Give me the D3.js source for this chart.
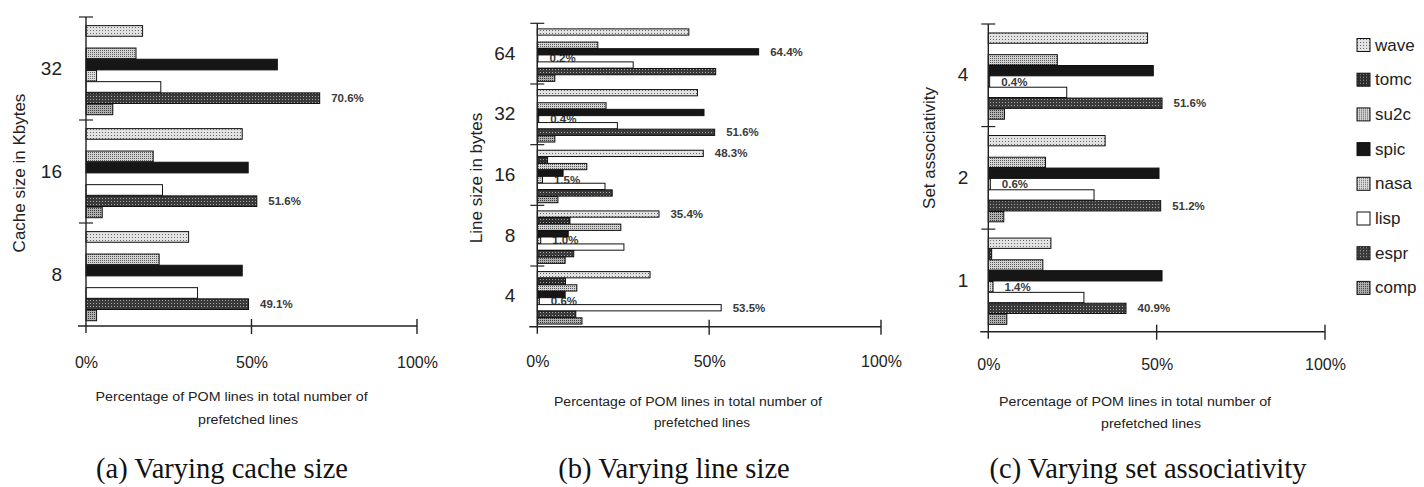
<!DOCTYPE html>
<html>
<head>
<meta charset="utf-8">
<script src="https://cdn.jsdelivr.net/npm/d3@7"></script>
<style>
  html, body { margin: 0; padding: 0; background: #fff; }
  svg { display: block; }
</style>
</head>
<body>
<svg id="chart" width="1424" height="487"></svg>
<script>
// Benchmarks, top-to-bottom within each group
const seriesNames = ["wave", "tomc", "su2c", "spic", "nasa", "lisp", "espr", "comp"];

// (a) Varying cache size (Kbytes)
const cacheGroups = ["32", "16", "8"];
const cache32 = [17.1, 0, 15.1, 57.8, 3.2, 22.6, 70.6, 8.1];
const cache16 = [47.2, 0, 20.3, 49.0, 0, 23.1, 51.6, 4.9];
const cache8  = [31.0, 0, 22.1, 47.2, 0, 33.7, 49.1, 3.2];
const cacheLabels = [["32", "espr"], ["16", "espr"], ["8", "espr"]];

// (b) Varying line size (bytes)
const lineGroups = ["64", "32", "16", "8", "4"];
const line64 = [44.1, 0, 17.6, 64.4, 0.2, 27.9, 51.9, 5.1];
const line32 = [46.6, 0, 20.0, 48.5, 0.4, 23.3, 51.6, 5.1];
const line16 = [48.3, 3.0, 14.4, 7.5, 1.5, 19.7, 21.8, 6.0];
const line8  = [35.4, 9.5, 24.3, 9.0, 1.0, 25.2, 10.6, 8.1];
const line4  = [32.8, 8.2, 11.5, 8.1, 0.6, 53.5, 11.2, 13.0];
const lineLabels = [["64", "spic"], ["64", "nasa"], ["32", "espr"], ["32", "nasa"],
                    ["16", "wave"], ["16", "nasa"], ["8", "wave"], ["8", "nasa"],
                    ["4", "lisp"], ["4", "nasa"]];

// (c) Varying set associativity
const assocGroups = ["4", "2", "1"];
const assoc4 = [47.3, 0, 20.5, 49.0, 0.4, 23.3, 51.6, 4.8];
const assoc2 = [34.7, 0, 17.0, 50.7, 0.6, 31.4, 51.2, 4.6];
const assoc1 = [18.6, 1.0, 16.2, 51.6, 1.4, 28.4, 40.9, 5.5];
const assocLabels = [["4", "nasa"], ["4", "espr"], ["2", "nasa"], ["2", "espr"],
                     ["1", "nasa"], ["1", "espr"]];

const xTicks = [0, 50, 100];

const svg = d3.select("#chart");
const defs = svg.append("defs");

// Screen-tone fills for each benchmark
const tones = {
  wave: { bg: "#e2e2e2", fg: "#6a6a6a", size: 3 },
  tomc: { bg: "#2c2c2c", fg: "#9a9a9a", size: 3 },
  su2c: { bg: "#d4d4d4", fg: "#5a5a5a", size: 2 },
  spic: { bg: "#161616", fg: "#161616", size: 3 },
  nasa: { bg: "#dadada", fg: "#707070", size: 2 },
  lisp: { bg: "#ffffff", fg: "#ffffff", size: 3 },
  espr: { bg: "#3a3a3a", fg: "#a8a8a8", size: 3 },
  comp: { bg: "#b0b0b0", fg: "#3c3c3c", size: 2 }
};
seriesNames.forEach(name => {
  const t = tones[name];
  const p = defs.append("pattern")
    .attr("id", "tone-" + name)
    .attr("patternUnits", "userSpaceOnUse")
    .attr("width", t.size).attr("height", t.size);
  p.append("rect").attr("width", t.size).attr("height", t.size).attr("fill", t.bg);
  p.append("rect").attr("x", 0).attr("y", 0).attr("width", 1).attr("height", 1).attr("fill", t.fg);
});

const sansFont = "'Liberation Sans', Arial, Helvetica, sans-serif";
const serifFont = "'Liberation Serif', 'Times New Roman', serif";
const fmtPct = v => d3.format(".1f")(v) + "%";

function drawPanel(cfg) {
  const g = svg.append("g");
  const x = d3.scaleLinear().domain([0, 100]).range([cfg.x0, cfg.x100]);
  const yGroup = d3.scaleBand().domain(cfg.groups).range([cfg.yTop, cfg.yBottom]).padding(0);
  const ySeries = d3.scaleBand().domain(seriesNames).range([0, yGroup.bandwidth()])
    .paddingInner(cfg.padInner).paddingOuter(cfg.padOuter).align(cfg.align);

  const rows = [];
  cfg.groups.forEach((grp, gi) => {
    cfg.values[gi].forEach((v, si) => rows.push({ grp, name: seriesNames[si], v }));
  });
  const valueOf = (grp, name) => rows.find(r => r.grp === grp && r.name === name).v;

  // value labels sit behind the bars
  g.append("g").selectAll("text")
    .data(cfg.labels)
    .join("text")
    .attr("x", d => x(valueOf(d[0], d[1])) + 11.5)
    .attr("y", d => yGroup(d[0]) + ySeries(d[1]) + ySeries.bandwidth() / 2)
    .attr("dominant-baseline", "central")
    .attr("font-family", sansFont)
    .attr("font-size", 11.5)
    .attr("font-weight", "bold")
    .attr("fill", "#3a3a3a")
    .text(d => fmtPct(valueOf(d[0], d[1])));

  // bars
  g.append("g").selectAll("rect")
    .data(rows.filter(r => r.v > 0))
    .join("rect")
    .attr("x", x(0))
    .attr("y", d => yGroup(d.grp) + ySeries(d.name))
    .attr("width", d => x(d.v) - x(0))
    .attr("height", ySeries.bandwidth())
    .attr("fill", d => "url(#tone-" + d.name + ")")
    .attr("stroke", "#111")
    .attr("stroke-width", 1);

  // y axis: group boundary ticks and category labels
  const yAxis = d3.axisLeft(yGroup).tickSize(0).tickPadding(cfg.labelPad);
  const ya = g.append("g").attr("transform", `translate(${x(0)},0)`).call(yAxis);
  ya.select(".domain").remove();
  ya.selectAll("text")
    .attr("font-family", sansFont)
    .attr("font-size", 19)
    .attr("fill", "#222");
  const bounds = cfg.groups.map(grp => yGroup(grp));
  g.append("g").selectAll("line")
    .data(bounds)
    .join("line")
    .attr("x1", x(0) - 7).attr("x2", x(0) + 7)
    .attr("y1", d => d).attr("y2", d => d)
    .attr("stroke", "#222").attr("stroke-width", 1.2);
  g.append("line")
    .attr("x1", x(0)).attr("x2", x(0))
    .attr("y1", cfg.yTop).attr("y2", cfg.yBottom + 7)
    .attr("stroke", "#222").attr("stroke-width", 1.4);

  // x axis
  g.append("line")
    .attr("x1", x(0) - 8).attr("x2", x(100))
    .attr("y1", cfg.yBottom).attr("y2", cfg.yBottom)
    .attr("stroke", "#222").attr("stroke-width", 1.4);
  const xa = d3.axisBottom(x).tickValues(xTicks).tickFormat(d => d + "%").tickSize(0);
  const xg = g.append("g").attr("transform", `translate(0,${cfg.yBottom})`).call(xa);
  xg.select(".domain").remove();
  xg.selectAll("text")
    .attr("y", cfg.tickLabelDy)
    .attr("dy", "0.35em")
    .attr("font-family", sansFont)
    .attr("font-size", 16)
    .attr("fill", "#222");
  g.append("g").selectAll("line")
    .data(xTicks.filter(t => t > 0))
    .join("line")
    .attr("x1", d => x(d)).attr("x2", d => x(d))
    .attr("y1", cfg.yBottom - 7).attr("y2", cfg.yBottom + 8)
    .attr("stroke", "#222").attr("stroke-width", 1.4);

  // y axis title
  g.append("text")
    .attr("transform", `translate(${cfg.yTitleX},${cfg.yTitleY}) rotate(-90)`)
    .attr("text-anchor", "middle")
    .attr("dominant-baseline", "central")
    .attr("font-family", sansFont)
    .attr("font-size", 17)
    .attr("fill", "#222")
    .text(cfg.yTitle);

  // x axis title (two lines)
  const xt = g.append("g")
    .attr("font-family", sansFont)
    .attr("font-size", 12)
    .attr("fill", "#222");
  xt.append("text")
    .attr("x", cfg.xTitle1[0]).attr("y", cfg.xTitle1[1])
    .attr("text-anchor", "middle")
    .attr("textLength", cfg.xTitle1[2]).attr("lengthAdjust", "spacingAndGlyphs")
    .text("Percentage of POM lines in total number of");
  xt.append("text")
    .attr("x", cfg.xTitle2[0]).attr("y", cfg.xTitle2[1])
    .attr("text-anchor", "middle")
    .attr("textLength", cfg.xTitle2[2]).attr("lengthAdjust", "spacingAndGlyphs")
    .text("prefetched lines");

  // caption
  g.append("text")
    .attr("x", cfg.captionX).attr("y", 478)
    .attr("text-anchor", "middle")
    .attr("font-family", serifFont)
    .attr("font-size", 28.5)
    .attr("fill", "#111")
    .text(cfg.caption);
}

drawPanel({
  groups: cacheGroups, values: [cache32, cache16, cache8], labels: cacheLabels,
  x0: 86, x100: 417, yTop: 17, yBottom: 326,
  padInner: 0.05, padOuter: 0.62, align: 0.62, labelPad: 24,
  tickLabelDy: 36,
  yTitle: "Cache size in Kbytes", yTitleX: 19, yTitleY: 173,
  xTitle1: [231.6, 401, 272], xTitle2: [248, 424, 100],
  caption: "(a) Varying cache size", captionX: 222
});

drawPanel({
  groups: lineGroups, values: [line64, line32, line16, line8, line4], labels: lineLabels,
  x0: 537.3, x100: 881, yTop: 23.3, yBottom: 326.7,
  padInner: 0.05, padOuter: 0.62, align: 0.68, labelPad: 22,
  tickLabelDy: 35,
  yTitle: "Line size in bytes", yTitleX: 476, yTitleY: 178,
  xTitle1: [688, 406, 268], xTitle2: [702, 427, 96],
  caption: "(b) Varying line size", captionX: 674
});

drawPanel({
  groups: assocGroups, values: [assoc4, assoc2, assoc1], labels: assocLabels,
  x0: 988.3, x100: 1325, yTop: 24, yBottom: 331.7,
  padInner: 0.05, padOuter: 0.75, align: 0.55, labelPad: 20,
  tickLabelDy: 33,
  yTitle: "Set associativity", yTitleX: 929, yTitleY: 148,
  xTitle1: [1135, 406, 272], xTitle2: [1151, 428, 100],
  caption: "(c) Varying set associativity", captionX: 1148
});

// legend
const legend = svg.append("g").attr("transform", "translate(1357,45)");
const legendStep = 34.7;
const li = legend.selectAll("g")
  .data(seriesNames)
  .join("g")
  .attr("transform", (d, i) => `translate(0,${i * legendStep})`);
li.append("rect")
  .attr("x", 0).attr("y", -6.5).attr("width", 13).attr("height", 13)
  .attr("fill", d => "url(#tone-" + d + ")")
  .attr("stroke", "#111").attr("stroke-width", 1);
li.append("text")
  .attr("x", 18).attr("y", 0)
  .attr("dominant-baseline", "central")
  .attr("font-family", sansFont)
  .attr("font-size", 17)
  .attr("fill", "#222")
  .text(d => d);
</script>
</body>
</html>
